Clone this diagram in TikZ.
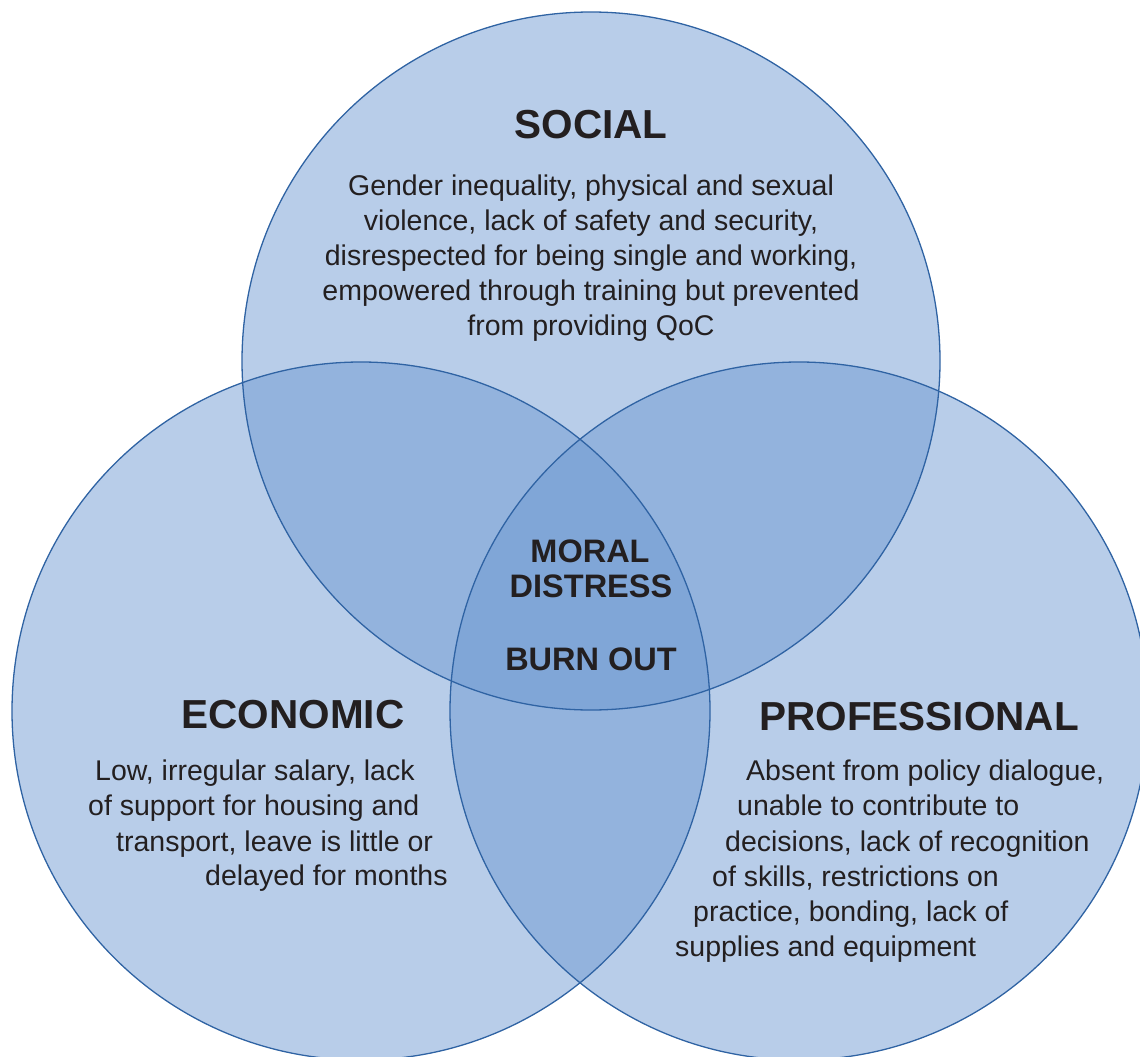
\documentclass[tikz,border=0pt]{standalone}
\usepackage{fontspec}
\setmainfont{Liberation Sans}
\definecolor{setfill}{RGB}{107,151,209}
\definecolor{setline}{RGB}{47,99,163}
\definecolor{ink}{RGB}{35,31,32}
\tikzset{
  setdisc/.style={circle, minimum size=698pt, inner sep=0pt, fill=setfill, fill opacity=0.48},
  setrim/.style={draw=setline, line width=1.3pt},
  heading/.style={font=\fontsize{40.5}{44}\selectfont\bfseries, text=ink, inner sep=0pt},
  core/.style={font=\fontsize{32.5}{36}\selectfont\bfseries, text=ink, inner sep=0pt},
  body/.style={font=\fontsize{28.5}{35}\selectfont, text=ink, inner sep=0pt},
}
\begin{document}
\begin{tikzpicture}[x=1pt, y=-1pt]
\useasboundingbox (0,0) rectangle (1140,1057);
\clip (0,0) rectangle (1140,1057);

% the three overlapping sets
\node[setdisc] (social) at (591,361) {};
\node[setdisc] (economic) at (361,711) {};
\node[setdisc] (professional) at (799,711) {};
\draw[setrim] (social.center) circle[radius=349];
\draw[setrim] (economic.center) circle[radius=349];
\draw[setrim] (professional.center) circle[radius=349];

% social
\node[heading, anchor=base] (socialtitle) at (591,138) {SOCIAL};
\node[body, anchor=base] (s1) at (591,195) {Gender inequality, physical and sexual};
\node[body, anchor=base] (s2) at (591,230) {violence, lack of safety and security,};
\node[body, anchor=base] (s3) at (591,265) {disrespected for being single and working,};
\node[body, anchor=base] (s4) at (591,300) {empowered through training but prevented};
\node[body, anchor=base] (s5) at (591,335) {from providing QoC};

% economic
\node[heading, anchor=base] (economictitle) at (293,728) {ECONOMIC};
\node[body, anchor=base west] (e1) at (95,780) {Low, irregular salary, lack};
\node[body, anchor=base west] (e2) at (88,815) {of support for housing and};
\node[body, anchor=base west] (e3) at (116,851) {transport, leave is little or};
\node[body, anchor=base west] (e4) at (205,885) {delayed for months};

% professional
\node[heading, anchor=base] (professionaltitle) at (919,730) {PROFESSIONAL};
\node[body, anchor=base west] (p1) at (746,780) {Absent from policy dialogue,};
\node[body, anchor=base west] (p2) at (737,815) {unable to contribute to};
\node[body, anchor=base west] (p3) at (725,851) {decisions, lack of recognition};
\node[body, anchor=base west] (p4) at (712,886) {of skills, restrictions on};
\node[body, anchor=base west] (p5) at (693,921) {practice, bonding, lack of};
\node[body, anchor=base west] (p6) at (675,956) {supplies and equipment};

% centre
\node[core, anchor=base] (moral) at (590,562) {MORAL};
\node[core, anchor=base] (distress) at (591,597) {DISTRESS};
\node[core, anchor=base] (burnout) at (591,670) {BURN OUT};
\end{tikzpicture}
\end{document}
